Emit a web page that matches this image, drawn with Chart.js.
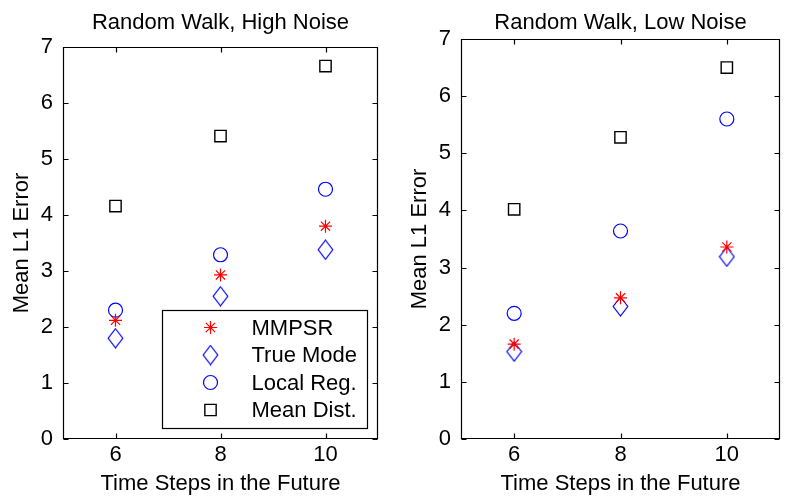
<!DOCTYPE html>
<html>
<head>
<meta charset="utf-8">
<script src="https://cdn.jsdelivr.net/npm/chart.js@4/dist/chart.umd.min.js"></script>
<style>
  body { margin: 0; background: #fff; }
  .panel { position: absolute; top: 0; }
</style>
</head>
<body>
<div class="panel" style="left:0"><canvas id="leftChart" width="400" height="502"></canvas></div>
<div class="panel" style="left:400px"><canvas id="rightChart" width="391" height="502"></canvas></div>
<script>
// time steps on the x axis
const steps = [6, 8, 10];
const yTicks = [0, 1, 2, 3, 4, 5, 6, 7];
const seriesNames = ["MMPSR", "True Mode", "Local Reg.", "Mean Dist."];

// Random Walk, High Noise
const highMmpsr = [2.12, 2.93, 3.80];
const highTrueMode = [1.80, 2.55, 3.38];
const highLocalReg = [2.30, 3.29, 4.46];
const highMeanDist = [4.16, 5.41, 6.66];

// Random Walk, Low Noise
const lowMmpsr = [1.66, 2.47, 3.36];
const lowTrueMode = [1.53, 2.32, 3.19];
const lowLocalReg = [2.20, 3.64, 5.60];
const lowMeanDist = [4.02, 5.28, 6.50];

const FONT = "'Liberation Sans', Arial, Helvetica, sans-serif";
const FSIZE = 22;

// matlab diamond is a bit taller than wide
function diamondMarker(color) {
  const c = document.createElement("canvas");
  c.width = 17; c.height = 21;
  const g = c.getContext("2d");
  g.strokeStyle = color;
  g.lineWidth = 1.2;
  g.beginPath();
  g.moveTo(8.5, 1); g.lineTo(15.8, 10.5); g.lineTo(8.5, 20); g.lineTo(1.2, 10.5);
  g.closePath();
  g.stroke();
  return c;
}

const markers = [
  { style: "star", radius: 6.5, color: "#ff0000", width: 1.2 },
  { style: diamondMarker("#0000ff"), radius: 8, color: "#0000ff", width: 1.2 },
  { style: "circle", radius: 7, color: "#0000ff", width: 1.2 },
  { style: "rect", radius: 8, color: "#000000", width: 1.4 }
];

function toPoints(vals) {
  return vals.map((v, i) => ({ x: steps[i], y: v }));
}

// box around the axes with inward tick marks, matlab style
const framePlugin = {
  id: "frame",
  beforeDatasetsDraw(chart) {
    const ctx = chart.ctx;
    const a = chart.chartArea;
    const xs = chart.scales.x, ys = chart.scales.y;
    const L = Math.round(a.left) + 0.5, R = Math.round(a.right) - 0.5;
    const T = Math.round(a.top) + 0.5, B = Math.round(a.bottom) - 0.5;
    ctx.save();
    ctx.strokeStyle = "#000";
    ctx.lineWidth = 1.2;
    ctx.beginPath();
    ctx.rect(L, T, R - L, B - T);
    steps.forEach(v => {
      const px = Math.round(xs.getPixelForValue(v)) + 0.5;
      ctx.moveTo(px, B); ctx.lineTo(px, B - 5);
      ctx.moveTo(px, T); ctx.lineTo(px, T + 5);
    });
    yTicks.forEach(v => {
      const py = Math.round(ys.getPixelForValue(v)) + 0.5;
      ctx.moveTo(L, py); ctx.lineTo(L + 5, py);
      ctx.moveTo(R, py); ctx.lineTo(R - 5, py);
    });
    ctx.stroke();
    ctx.restore();
  }
};

// legend box in the lower right of the axes
const boxLegend = {
  id: "boxLegend",
  afterDatasetsDraw(chart, args, opts) {
    if (!opts.show) return;
    const ctx = chart.ctx;
    const a = chart.chartArea;
    const w = 205, h = 118;
    const x0 = Math.round(a.right - 11 - w) + 0.5;
    const y0 = Math.round(a.bottom - 11 - h) + 0.5;
    ctx.save();
    ctx.fillStyle = "#fff";
    ctx.fillRect(x0, y0, w, h);
    ctx.strokeStyle = "#000";
    ctx.lineWidth = 1.2;
    ctx.strokeRect(x0, y0, w, h);
    ctx.font = FSIZE + "px " + FONT;
    ctx.textBaseline = "middle";
    ctx.textAlign = "left";
    seriesNames.forEach((name, i) => {
      const m = markers[i];
      const cy = y0 + 17 + i * 27.5;
      ctx.strokeStyle = m.color;
      ctx.fillStyle = "rgba(0,0,0,0)";
      ctx.lineWidth = m.width;
      Chart.helpers.drawPoint(ctx, { pointStyle: m.style, radius: m.radius, borderWidth: m.width, rotation: 0 }, x0 + 48, cy);
      ctx.fillStyle = "#000";
      ctx.fillText(name, x0 + 89, cy + 1);
    });
    ctx.restore();
  }
};

function makeChart(id, title, values, lay) {
  const datasets = values.map((vals, i) => ({
    label: seriesNames[i],
    data: toPoints(vals),
    pointStyle: markers[i].style,
    pointRadius: markers[i].radius,
    pointHoverRadius: markers[i].radius,
    pointBorderColor: markers[i].color,
    pointBackgroundColor: "rgba(0,0,0,0)",
    pointBorderWidth: markers[i].width,
    showLine: false
  }));
  const font = { family: FONT, size: FSIZE, weight: "normal", lineHeight: 1 };
  return new Chart(document.getElementById(id), {
    type: "scatter",
    data: { datasets: datasets },
    options: {
      responsive: false,
      animation: false,
      devicePixelRatio: 1,
      layout: { padding: { left: 0, right: lay.padRight, top: 0, bottom: 0 } },
      plugins: {
        legend: { display: false },
        tooltip: { enabled: false },
        title: {
          display: true,
          text: title,
          fullSize: false,
          color: "#000",
          font: font,
          padding: { top: 12, bottom: lay.titleBottom }
        },
        boxLegend: { show: lay.legend }
      },
      scales: {
        x: {
          type: "linear",
          min: 5,
          max: 11,
          afterBuildTicks: s => { s.ticks = steps.map(v => ({ value: v })); },
          afterFit: s => { s.height = lay.xHeight; },
          grid: { display: false, drawTicks: false },
          border: { display: false },
          ticks: { color: "#000", font: font, padding: 5 },
          title: { display: true, text: "Time Steps in the Future", color: "#000", font: font, padding: { top: 0, bottom: 7 } }
        },
        y: {
          min: 0,
          max: 7,
          afterBuildTicks: s => { s.ticks = yTicks.map(v => ({ value: v })); },
          afterFit: s => { s.width = lay.yWidth; },
          grid: { display: false, drawTicks: false },
          border: { display: false },
          ticks: { color: "#000", font: font, padding: 10 },
          title: { display: true, text: "Mean L1 Error", color: "#000", font: font, padding: { top: lay.yTitlePad, bottom: 0 } }
        }
      }
    },
    plugins: [framePlugin, boxLegend]
  });
}

makeChart("leftChart", "Random Walk, High Noise",
  [highMmpsr, highTrueMode, highLocalReg, highMeanDist],
  { padRight: 22, titleBottom: 13, xHeight: 63, yWidth: 63, yTitlePad: 11, legend: true });

makeChart("rightChart", "Random Walk, Low Noise",
  [lowMmpsr, lowTrueMode, lowLocalReg, lowMeanDist],
  { padRight: 11, titleBottom: 5, xHeight: 63, yWidth: 61, yTitlePad: 9, legend: false });
</script>
</body>
</html>
